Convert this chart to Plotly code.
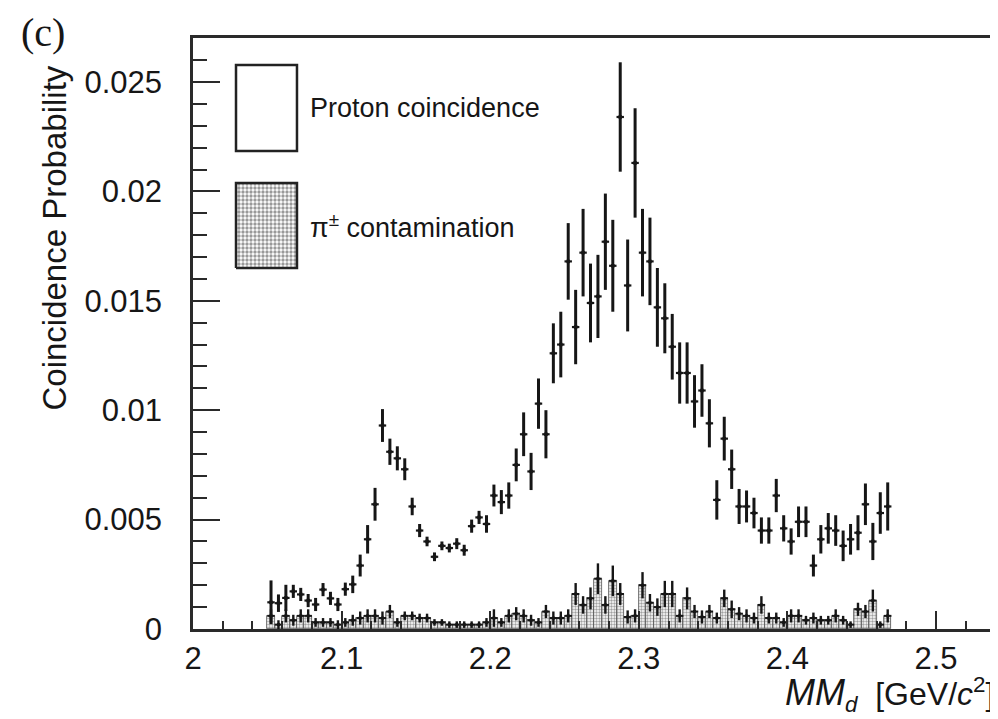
import plotly.graph_objects as go

# ---------------- data ----------------
mass_centers = [
    2.0525, 2.0575, 2.0625, 2.0675, 2.0725, 2.0775, 2.0825, 2.0875, 2.0925, 2.0975,
    2.1025, 2.1075, 2.1125, 2.1175, 2.1225, 2.1275, 2.1325, 2.1375, 2.1425, 2.1475,
    2.1525, 2.1575, 2.1625, 2.1675, 2.1725, 2.1775, 2.1825, 2.1875, 2.1925, 2.1975,
    2.2025, 2.2075, 2.2125, 2.2175, 2.2225, 2.2275, 2.2325, 2.2375, 2.2425, 2.2475,
    2.2525, 2.2575, 2.2625, 2.2675, 2.2725, 2.2775, 2.2825, 2.2875, 2.2925, 2.2975,
    2.3025, 2.3075, 2.3125, 2.3175, 2.3225, 2.3275, 2.3325, 2.3375, 2.3425, 2.3475,
    2.3525, 2.3575, 2.3625, 2.3675, 2.3725, 2.3775, 2.3825, 2.3875, 2.3925, 2.3975,
    2.4025, 2.4075, 2.4125, 2.4175, 2.4225, 2.4275, 2.4325, 2.4375, 2.4425, 2.4475,
    2.4525, 2.4575, 2.4625, 2.4675,
]
bin_half_width = 0.0025

proton_prob = [
    0.00122, 0.00118, 0.00142, 0.00172, 0.00158, 0.00130, 0.00112, 0.00180, 0.00140, 0.00112,
    0.00182, 0.00204, 0.00290, 0.00410, 0.00570, 0.00930, 0.00810, 0.00780, 0.00730, 0.00560,
    0.00450, 0.00400, 0.00330, 0.00380, 0.00370, 0.00390, 0.00360, 0.00470, 0.00510, 0.00480,
    0.00610, 0.00580, 0.00610, 0.00750, 0.00890, 0.00720, 0.01030, 0.00890, 0.01260, 0.01300,
    0.01680, 0.01380, 0.01720, 0.01490, 0.01520, 0.01770, 0.01660, 0.02340, 0.01570, 0.02130,
    0.01720, 0.01680, 0.01470, 0.01420, 0.01290, 0.01170, 0.01170, 0.01040, 0.01090, 0.00940,
    0.00590, 0.00870, 0.00730, 0.00560, 0.00560, 0.00530, 0.00450, 0.00450, 0.00610, 0.00460,
    0.00400, 0.00490, 0.00490, 0.00290, 0.00410, 0.00460, 0.00450, 0.00380, 0.00410, 0.00440,
    0.00570, 0.00400, 0.00530, 0.00560,
]
proton_err = [
    0.00100, 0.00040, 0.00060, 0.00030, 0.00030, 0.00030, 0.00030, 0.00030, 0.00030, 0.00030,
    0.00030, 0.00040, 0.00050, 0.00065, 0.00075, 0.00075, 0.00060, 0.00055, 0.00050, 0.00040,
    0.00030, 0.00022, 0.00020, 0.00020, 0.00020, 0.00025, 0.00025, 0.00030, 0.00030, 0.00040,
    0.00050, 0.00055, 0.00060, 0.00075, 0.00100, 0.00085, 0.00115, 0.00110, 0.00137, 0.00150,
    0.00175, 0.00170, 0.00200, 0.00180, 0.00190, 0.00220, 0.00210, 0.00250, 0.00210, 0.00250,
    0.00200, 0.00200, 0.00180, 0.00160, 0.00150, 0.00140, 0.00140, 0.00120, 0.00120, 0.00110,
    0.00090, 0.00100, 0.00090, 0.00080, 0.00073, 0.00070, 0.00060, 0.00060, 0.00076, 0.00060,
    0.00060, 0.00070, 0.00070, 0.00050, 0.00065, 0.00070, 0.00070, 0.00070, 0.00070, 0.00080,
    0.00095, 0.00085, 0.00095, 0.00110,
]
pion_prob = [
    0.00060, 0.00020, 0.00060, 0.00040, 0.00060, 0.00060, 0.00030, 0.00030, 0.00030, 0.00020,
    0.00030, 0.00040, 0.00050, 0.00060, 0.00060, 0.00050, 0.00080, 0.00030, 0.00060, 0.00060,
    0.00050, 0.00050, 0.00030, 0.00030, 0.00020, 0.00020, 0.00020, 0.00020, 0.00020, 0.00030,
    0.00050, 0.00030, 0.00060, 0.00070, 0.00060, 0.00040, 0.00030, 0.00080, 0.00050, 0.00050,
    0.00060, 0.00160, 0.00110, 0.00140, 0.00230, 0.00110, 0.00220, 0.00160, 0.00055, 0.00060,
    0.00200, 0.00120, 0.00100, 0.00160, 0.00160, 0.00060, 0.00140, 0.00080, 0.00055, 0.00080,
    0.00050, 0.00140, 0.00090, 0.00070, 0.00060, 0.00050, 0.00110, 0.00050, 0.00050, 0.00030,
    0.00060, 0.00060, 0.00040, 0.00050, 0.00040, 0.00040, 0.00060, 0.00040, 0.00020, 0.00090,
    0.00080, 0.00130, 0.00020, 0.00060,
]
pion_err = [
    0.00030, 0.00020, 0.00030, 0.00025, 0.00030, 0.00030, 0.00020, 0.00020, 0.00020, 0.00020,
    0.00020, 0.00025, 0.00030, 0.00030, 0.00030, 0.00030, 0.00030, 0.00020, 0.00020, 0.00020,
    0.00020, 0.00020, 0.00015, 0.00015, 0.00015, 0.00015, 0.00015, 0.00015, 0.00015, 0.00020,
    0.00040, 0.00020, 0.00030, 0.00030, 0.00030, 0.00025, 0.00020, 0.00030, 0.00030, 0.00030,
    0.00030, 0.00050, 0.00040, 0.00050, 0.00070, 0.00040, 0.00070, 0.00050, 0.00030, 0.00030,
    0.00060, 0.00040, 0.00040, 0.00060, 0.00060, 0.00030, 0.00050, 0.00030, 0.00030, 0.00030,
    0.00025, 0.00040, 0.00040, 0.00030, 0.00030, 0.00025, 0.00040, 0.00025, 0.00025, 0.00020,
    0.00030, 0.00030, 0.00020, 0.00025, 0.00020, 0.00020, 0.00030, 0.00020, 0.00015, 0.00030,
    0.00030, 0.00050, 0.00015, 0.00030,
]

y_tick_vals = [0, 0.005, 0.01, 0.015, 0.02, 0.025]
y_tick_text = ["0", "0.005", "0.01", "0.015", "0.02", "0.025"]
x_tick_vals = [2.0, 2.1, 2.2, 2.3, 2.4, 2.5]
x_tick_text = ["2", "2.1", "2.2", "2.3", "2.4", "2.5"]

legend_labels = ["Proton coincidence", "π<sup>±</sup> contamination"]

# ---------------- figure ----------------
INK = "#161616"
FONT = "Liberation Sans, Arial, Helvetica, sans-serif"

fig = go.Figure()

# pion contamination histogram (dotted fill)
fig.add_trace(go.Bar(
    x=mass_centers, y=pion_prob, width=2 * bin_half_width,
    marker=dict(color="white",
                line=dict(color="#555555", width=0.8),
                pattern=dict(shape=".", fgcolor="#444444", bgcolor="white",
                             size=3, solidity=0.5)),
    hoverinfo="skip",
))

# pion contamination error bars
fig.add_trace(go.Scatter(
    x=mass_centers, y=pion_prob, mode="markers",
    marker=dict(size=3, color=INK, symbol="square"),
    error_y=dict(type="data", array=pion_err, thickness=2.4, width=0, color=INK),
    error_x=dict(type="constant", value=bin_half_width, thickness=2, width=0, color=INK),
))

# proton coincidence points
fig.add_trace(go.Scatter(
    x=mass_centers, y=proton_prob, mode="markers",
    marker=dict(size=3.5, color=INK, symbol="square"),
    error_y=dict(type="data", array=proton_err, thickness=3, width=0, color=INK),
    error_x=dict(type="constant", value=bin_half_width, thickness=2.2, width=0, color=INK),
))

# legend patch fill with dotted pattern (drawn on an overlay 0..1 axis pair)
lx0, lx1 = 0.0529, 0.1279
ly0, ly1 = 0.6108, 0.7547
fig.add_trace(go.Scatter(
    x=[lx0, lx1, lx1, lx0, lx0], y=[ly0, ly0, ly1, ly1, ly0],
    xaxis="x2", yaxis="y2", mode="lines", fill="toself",
    line=dict(color="#222222", width=2.5),
    fillcolor="white",
    fillpattern=dict(shape=".", fgcolor="#333333", bgcolor="white", size=4, solidity=0.55),
    hoverinfo="skip",
))

fig.update_layout(
    width=998, height=719,
    margin=dict(l=185, r=0, t=30, b=98),
    plot_bgcolor="white", paper_bgcolor="white",
    showlegend=False, bargap=0,
    font=dict(family=FONT, color=INK),
    xaxis=dict(
        range=[2.0, 2.5471], showgrid=False, zeroline=False,
        showline=True, linecolor="#2a2a2a", linewidth=2.5, mirror=True,
        ticks="inside", ticklen=18, tickwidth=2, tickcolor="#2a2a2a",
        tickvals=x_tick_vals, ticktext=x_tick_text,
        tickfont=dict(size=31, family=FONT, color=INK),
        minor=dict(ticks="inside", ticklen=8, tickwidth=1.5, dtick=0.02,
                   tick0=2.0, tickcolor="#2a2a2a"),
    ),
    yaxis=dict(
        range=[0, 0.02701], showgrid=False, zeroline=False,
        showline=True, linecolor="#2a2a2a", linewidth=2.5, mirror=False,
        ticks="inside", ticklen=27, tickwidth=2, tickcolor="#2a2a2a",
        tickvals=y_tick_vals, ticktext=y_tick_text,
        tickfont=dict(size=31, family=FONT, color=INK),
        ticklabelstandoff=22,
        minor=dict(ticks="inside", ticklen=14, tickwidth=1.5, dtick=0.001,
                   tick0=0, tickcolor="#2a2a2a"),
    ),
    xaxis2=dict(overlaying="x", range=[0, 1], visible=False, fixedrange=True),
    yaxis2=dict(overlaying="y", range=[0, 1], visible=False, fixedrange=True),
)

# legend box for proton coincidence (empty)
fig.add_shape(type="rect", xref="paper", yref="paper",
              x0=0.0529, x1=0.1279, y0=0.8088, y1=0.9543,
              line=dict(color="#222222", width=2.5), fillcolor="white", layer="above")

# legend texts
fig.add_annotation(text=legend_labels[0], xref="paper", yref="paper",
                   x=0.1415, y=0.8816, xanchor="left", yanchor="middle",
                   showarrow=False, font=dict(size=27, family=FONT, color=INK))
fig.add_annotation(text=legend_labels[1], xref="paper", yref="paper",
                   x=0.1415, y=0.6819, xanchor="left", yanchor="middle",
                   showarrow=False, font=dict(size=27, family=FONT, color=INK))

# axis titles and panel label
fig.add_annotation(text="Coincidence Probability", xref="paper", yref="paper",
                   x=-0.17, y=0.662, xanchor="center", yanchor="middle",
                   textangle=-90, showarrow=False,
                   font=dict(size=33, family=FONT, color=INK))
fig.add_annotation(
    text="<i><span style='font-size:36px'>MM</span></i><sub><i>d</i></sub>  [GeV/<i>c</i><sup>2</sup>]",
    xref="paper", yref="paper",
    x=0.988, y=-0.111, xanchor="right", yanchor="middle",
    showarrow=False, font=dict(size=32, family=FONT, color=INK))
fig.add_annotation(text="(c)", xref="paper", yref="paper",
                   x=-0.184, y=1.0085, xanchor="center", yanchor="middle",
                   showarrow=False,
                   font=dict(size=40, family="Liberation Serif, Times New Roman, serif", color=INK))

fig.write_html("out.html")
